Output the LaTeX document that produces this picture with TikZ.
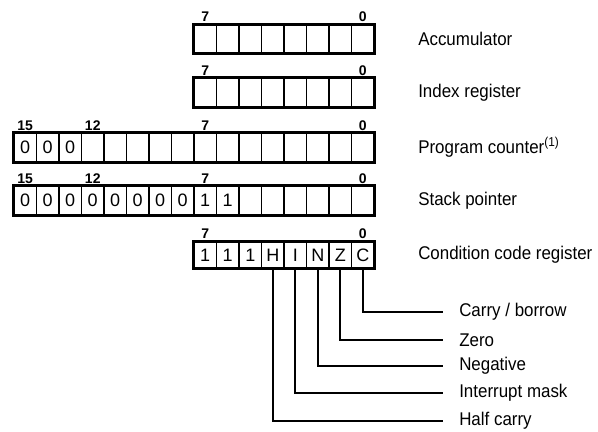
\documentclass[tikz,border=0pt]{standalone}
\usepackage{fontspec}
\usepackage{graphicx}
\setmainfont{Liberation Sans}
\newcommand{\narrowtxt}[1]{\scalebox{0.92}[1]{#1}}
\begin{document}
\begin{tikzpicture}[
      x=0.75pt, y=-0.75pt,
      bitcell/.style={
          rectangle, draw, line width=1.2pt,
          minimum width=16.875pt, minimum height=21pt,
          inner sep=0pt, font=\fontsize{13.5}{14}\selectfont
      },
      ccrcell/.style={
          bitcell, minimum height=19.5pt
      },
      bitnum/.style={
          font=\bfseries\fontsize{10.5}{11}\selectfont,
          inner sep=1.5pt, anchor=south
      },
      regframe/.style={line width=1.9pt},
      reglabel/.style={
          font=\fontsize{13.8}{15}\selectfont,
          anchor=west, inner sep=0pt
      },
      flaglabel/.style={
          reglabel, inner xsep=12pt, inner ysep=0pt
      },
      leader/.style={line width=1.6pt}
  ]
    \useasboundingbox (0,0) rectangle (598,431);

    % (a) Accumulator
    \foreach \i in {0,...,7}
        \node[bitcell] (acc-\i) at ({362.75-22.5*\i},39) {};
    \draw[regframe] (acc-7.north west) rectangle (acc-0.south east);
    \node[bitnum] (acc-hi) at (acc-7.north) {7};
    \node[bitnum] (acc-lo) at (acc-0.north) {0};
    \node[reglabel] (acc-name) at (418,39) {\narrowtxt{Accumulator}};

    % (b) Index register
    \foreach \i in {0,...,7}
        \node[bitcell] (idx-\i) at ({362.75-22.5*\i},92.5) {};
    \draw[regframe] (idx-7.north west) rectangle (idx-0.south east);
    \node[bitnum] (idx-hi) at (idx-7.north) {7};
    \node[bitnum] (idx-lo) at (idx-0.north) {0};
    \node[reglabel] (idx-name) at (418,92.5) {\narrowtxt{Index register}};

    % (c) Program counter, top three bits fixed to 0
    \foreach \i in {0,...,15}
        \node[bitcell] (pc-\i) at ({362.75-22.5*\i},147.5) {\ifnum\i>12 0\fi};
    \draw[regframe] (pc-15.north west) rectangle (pc-0.south east);
    \node[bitnum] (pc-15n) at (pc-15.north) {15};
    \node[bitnum] (pc-12n) at (pc-12.north) {12};
    \node[bitnum] (pc-7n) at (pc-7.north) {7};
    \node[bitnum] (pc-0n) at (pc-0.north) {0};
    \node[reglabel] (pc-name) at (418,147.5) {\narrowtxt{Program counter\textsuperscript{(1)}}};

    % (d) Stack pointer
    \foreach \i in {0,...,15}
        \node[bitcell] (sp-\i) at ({362.75-22.5*\i},200.5)
            {\ifnum\i>7 0\else\ifnum\i>5 1\fi\fi};
    \draw[regframe] (sp-15.north west) rectangle (sp-0.south east);
    \node[bitnum] (sp-15n) at (sp-15.north) {15};
    \node[bitnum] (sp-12n) at (sp-12.north) {12};
    \node[bitnum] (sp-7n) at (sp-7.north) {7};
    \node[bitnum] (sp-0n) at (sp-0.north) {0};
    \node[reglabel] (sp-name) at (418,200.5) {\narrowtxt{Stack pointer}};

    % (e) Condition code register
    \foreach \i/\v in {7/1,6/1,5/1,4/H,3/I,2/N,1/Z,0/C}
        \node[ccrcell] (ccr-\i) at ({362.75-22.5*\i},255) {\v};
    \draw[regframe] (ccr-7.north west) rectangle (ccr-0.south east);
    \node[bitnum] (ccr-hi) at (ccr-7.north) {7};
    \node[bitnum] (ccr-lo) at (ccr-0.north) {0};
    \node[reglabel] (ccr-name) at (418,255) {\narrowtxt{Condition code register}};

    % Flag names
    \node[flaglabel] (carry) at (443,312) {\narrowtxt{Carry / borrow}};
    \node[flaglabel] (zero) at (443,340) {\narrowtxt{Zero}};
    \node[flaglabel] (neg) at (443,366) {\narrowtxt{Negative}};
    \node[flaglabel] (intr) at (443,393) {\narrowtxt{Interrupt mask}};
    \node[flaglabel] (half) at (443,421) {\narrowtxt{Half carry}};

    % Leaders
    \draw[leader] (ccr-0.south) |- (carry.west);
    \draw[leader] (ccr-1.south) |- (zero.west);
    \draw[leader] (ccr-2.south) |- (neg.west);
    \draw[leader] (ccr-3.south) |- (intr.west);
    \draw[leader] (ccr-4.south) |- (half.west);
  \end{tikzpicture}
\end{document}
